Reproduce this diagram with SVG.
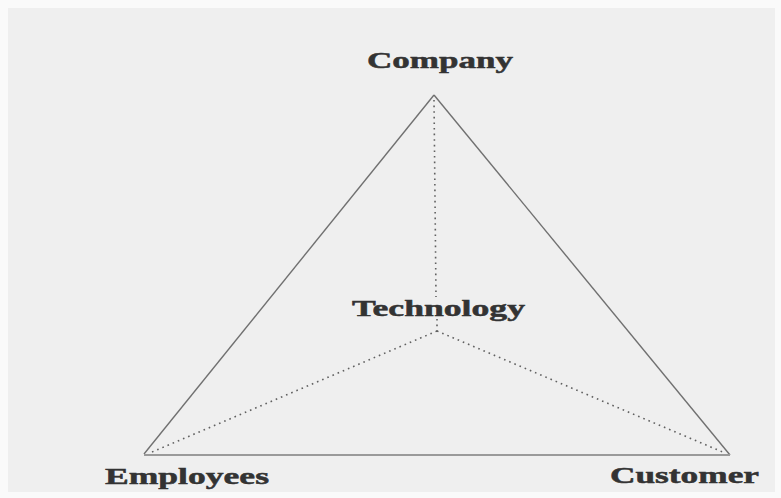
<svg xmlns="http://www.w3.org/2000/svg" width="781" height="498" viewBox="0 0 781 498">
  <style>
    .lbl { font-family: "Liberation Serif", "Times New Roman", serif; font-weight: bold; font-size: 23px; fill: #333333; stroke: #333333; stroke-width: 0.5; }
    .edge { fill: none; stroke: #707070; stroke-width: 1.4; }
    .base { fill: none; stroke: #9a9a9a; stroke-width: 1.8; }
    .dot { fill: none; stroke: #606060; stroke-width: 1.6; stroke-dasharray: 1.6 4; }
  </style>
  <rect x="0" y="0" width="781" height="498" fill="#fafafa"/>
  <rect x="8" y="8" width="767" height="484" fill="#efefef"/>
  <g id="connectors">
    <line class="edge" x1="434" y1="95" x2="144" y2="454"/>
    <line class="edge" x1="434" y1="95" x2="730" y2="455"/>
    <line class="base" x1="144" y1="455" x2="730" y2="455"/>
    <line class="dot" x1="434" y1="100" x2="436" y2="297"/>
    <line class="dot" x1="437" y1="319" x2="437" y2="331"/>
    <line class="dot" x1="437" y1="331" x2="152" y2="452"/>
    <line class="dot" x1="437" y1="331" x2="725" y2="453"/>
  </g>
  <g id="company"><text class="lbl" x="367" y="68" textLength="146" lengthAdjust="spacingAndGlyphs">Company</text></g>
  <g id="technology"><text class="lbl" x="352" y="316" textLength="173" lengthAdjust="spacingAndGlyphs">Technology</text></g>
  <g id="employees"><text class="lbl" x="105" y="484" textLength="164" lengthAdjust="spacingAndGlyphs">Employees</text></g>
  <g id="customer"><text class="lbl" x="610" y="483" textLength="149" lengthAdjust="spacingAndGlyphs">Customer</text></g>
</svg>
